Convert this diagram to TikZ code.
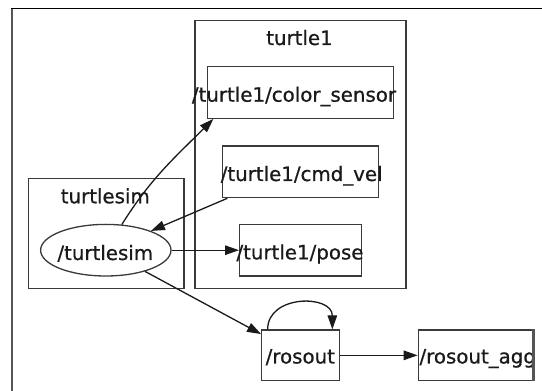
\documentclass[tikz,border=0pt]{standalone}
\usepackage{fontspec}
\setmainfont[FakeBold=0.7]{DejaVu Sans}
\usetikzlibrary{arrows.meta,shapes.geometric}
\definecolor{graphink}{HTML}{1A1A1A}
\definecolor{boxline}{HTML}{3A3A3A}
\definecolor{framegray}{HTML}{555555}

\begin{document}
\begin{tikzpicture}[
  x=1pt,
  y=1pt,
  every node/.style={font=\fontsize{19.8}{23}\selectfont, graphink},
  cluster/.style={draw=boxline, line width=1.3pt, rectangle, inner sep=0pt},
  topicbox/.style={draw=boxline, line width=1.3pt, rectangle, inner sep=0pt,
                   minimum height=51.6pt},
  nodeoval/.style={draw=boxline, line width=1.3pt, ellipse, inner sep=0pt,
                   minimum width=130.4pt, minimum height=51.6pt},
  caption/.style={anchor=base, inner sep=0pt},
  edge/.style={graphink, line width=1.3pt, -{Triangle[length=14pt, width=9.5pt]}}
]
  \fill[white] (0,0) rectangle (542,391);
  \useasboundingbox (0,0) rectangle (542,391);

  %% ---- window frame ------------------------------------------------------
  \draw[framegray, line width=2pt] (12.3,0) -- (12.3,382.7);
  \draw[black, line width=1.5pt] (11.3,382.7) -- (542,382.7);

  %% ---- clusters ----------------------------------------------------------
  \node[cluster, minimum width=211pt, minimum height=267.6pt] (turtleone) at (300.5,236.5) {};
  \node[caption] (turtleonelabel) at (299.5,346) {turtle1};

  \node[cluster, minimum width=155.7pt, minimum height=110pt] (turtlesim) at (106.2,157.7) {};
  \node[caption] (turtlesimlabel) at (105.3,187.7) {turtlesim};

  %% ---- topics and nodes --------------------------------------------------
  \node[topicbox, minimum width=186pt] (color) at (300.3,298.5) {};
  \node[caption] (colortext) at (294,289.3) {/turtle1/color\_sensor};

  \node[topicbox, minimum width=156pt] (cmd) at (300.3,219.15) {};
  \node[caption] (cmdtext) at (301.7,210) {/turtle1/cmd\_vel};

  \node[topicbox, minimum width=121.5pt] (pose) at (300.4,140.8) {};
  \node[caption] (posetext) at (300,131.6) {/turtle1/pose};

  \node[nodeoval] (ts) at (105.8,140.8) {};
  \node[caption] (tstext) at (105.3,131) {/turtlesim};

  \node[topicbox, minimum width=77.6pt, minimum height=50.7pt] (rosout) at (300.5,35.65) {};
  \node[caption] (rosouttext) at (300.3,27.5) {/rosout};

  \node[topicbox, minimum width=115pt, minimum height=50.7pt] (agg) at (475.8,35.65) {};
  \begin{scope}
    \clip (0,0) rectangle (533,391);
    \node[caption, anchor=base west] (aggtext) at (419.3,27.5) {/rosout\_agg};
  \end{scope}
  \draw[framegray, line width=3pt] (agg.north east) -- (agg.south east);

  %% ---- edges -------------------------------------------------------------
  \draw[edge] (ts) to[out=58, in=-135] ([xshift=6.7pt]color.south west);
  \draw[edge] ([xshift=5.7pt]cmd.south west) -- (ts);
  \draw[edge] (ts) -- (pose);
  \draw[edge] (ts) -- (rosout);
  \draw[edge] ([xshift=6.6pt]rosout.north west)
    .. controls ([shift={(6.6pt,35pt)}]rosout.north west)
            and ([shift={(-7.6pt,35pt)}]rosout.north east)
    .. ([xshift=-7.6pt]rosout.north east);
  \draw[edge] (rosout) -- (agg);
\end{tikzpicture}
\end{document}
